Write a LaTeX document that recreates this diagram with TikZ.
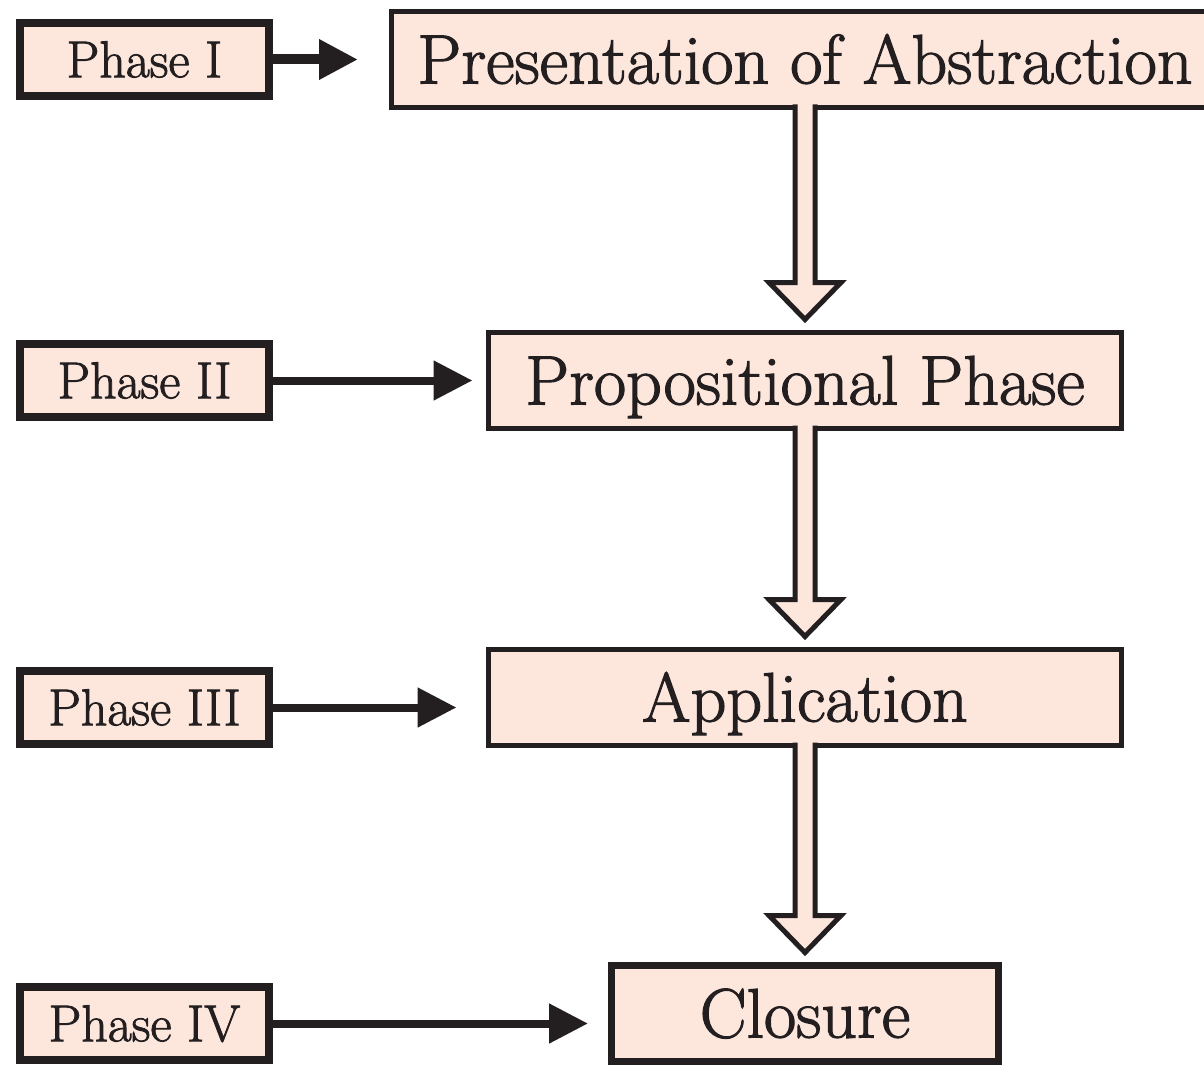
\documentclass[tikz,border=0pt]{standalone}
\usepackage{fontspec}
\usepackage{tikz}
\usetikzlibrary{matrix,arrows.meta,calc}
\newfontfamily\boxfont{Latin Modern Roman}[FakeBold=1.6]
\definecolor{boxpink}{RGB}{253,230,220}
\definecolor{ink}{RGB}{35,31,32}

\begin{document}
\begin{tikzpicture}[x=0.5pt, y=-0.5pt,
  phasebox/.style={draw=ink, fill=boxpink, line width=4pt, anchor=center, text=ink,
    font=\boxfont\fontsize{26}{31}\selectfont, minimum width=124.5pt, minimum height=36.5pt,
    text height=17.8pt, text depth=0pt, inner sep=2pt},
  mainbox/.style={draw=ink, fill=boxpink, line width=2.5pt, anchor=center, text=ink,
    font=\boxfont\fontsize{35}{42}\selectfont, minimum width=316pt, minimum height=48pt,
    text height=24pt, text depth=0pt, inner sep=2pt},
  phasearrow/.style={color=ink, line width=4pt, -{Triangle[length=19.5pt,width=19pt]}},
  hollow/.style={draw=ink, fill=boxpink, line width=2.5pt, to path={
    ($(\tikztostart.south)+(-10,-3)$) -- ($(\tikztostart.south |- \tikztotarget.north)+(-10,-50)$)
    -- ++(-26,0) -- ($(\tikztostart.south |- \tikztotarget.north)+(0,-13)$)
    -- ($(\tikztostart.south |- \tikztotarget.north)+(36,-50)$) -- ++(-26,0)
    -- ($(\tikztostart.south)+(10,-3)$)}}]
  \useasboundingbox (0,0) rectangle (1204,1065);
  \matrix (m) [matrix of nodes, anchor=north west, inner sep=0pt, outer sep=0pt,
    row sep=107pt, column sep=58pt,
    column 1/.style={nodes=phasebox}, column 2/.style={nodes=mainbox}] at (16,9)
  {
Phase I & |[minimum width=413.5pt]| Presentation of Abstraction \\[3pt]
Phase II & Propositional Phase \\[1pt]
|[yshift=-5pt]| Phase III & Application \\
|[yshift=-5pt]| Phase IV & |[minimum width=193.5pt, line width=3.5pt]| Closure \\
};
  \path (m-1-2) edge[hollow] (m-2-2)
        (m-2-2) edge[hollow] (m-3-2)
        (m-3-2) edge[hollow] (m-4-2);
  \path[phasearrow]
 (m-1-1) edge[shorten >=16.75pt, line width=5pt] (m-1-1 -| m-1-2.west)
 (m-2-1) edge[shorten >=8.25pt] (m-2-1 -| m-2-2.west)
 (m-3-1) edge[shorten >=16.25pt] (m-3-1 -| m-3-2.west)
 (m-4-1) edge[shorten >=11.75pt] (m-4-1 -| m-4-2.west)
;
\end{tikzpicture}
\end{document}
